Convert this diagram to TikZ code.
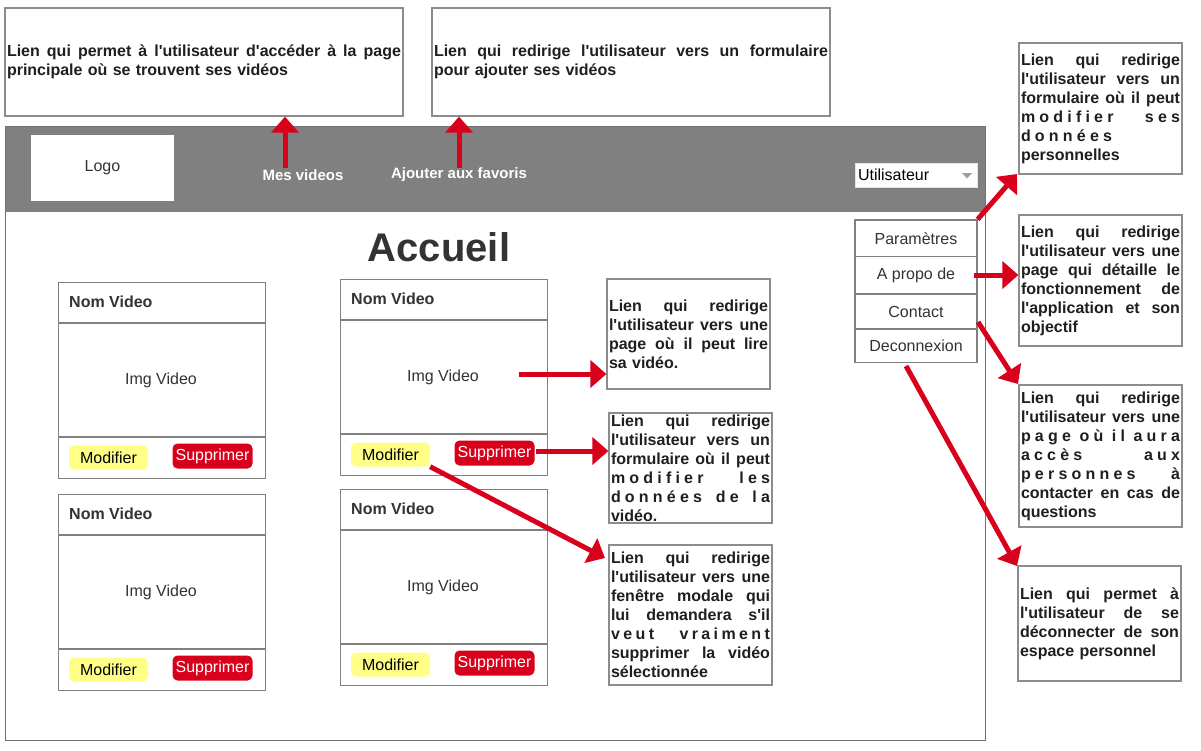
\documentclass[tikz,border=0pt]{standalone}
\usepackage{fontspec}
\setmainfont{Liberation Sans}
\usetikzlibrary{arrows.meta}
\definecolor{redA}{HTML}{D9001B}
\definecolor{bord}{HTML}{808080}
\definecolor{fbord}{HTML}{707070}
\definecolor{abord}{HTML}{8C8C8C}
\definecolor{txt}{HTML}{333333}
\definecolor{atxt}{HTML}{1F1F1F}
\definecolor{ylw}{HTML}{FFFF88}
\definecolor{hdr}{HTML}{808080}
\newcommand\fsz[1]{\fontsize{#1pt}{#1pt}\selectfont}
\newcommand\JL[1]{\makebox[\hsize][s]{\spaceskip=\fontdimen2\font plus 1fil\relax #1}}
\newcommand\LS[2][4.2pt]{{\spaceskip=#1\relax #2}}
\newcommand\apo{\textquotesingle}
\begin{document}
\begin{tikzpicture}[x=1pt,y=-1pt,
  annot/.style={draw=abord, line width=1.2pt, fill=white, text=atxt, font=\bfseries\fontsize{16pt}{19pt}\selectfont, align=left, inner xsep=2pt, inner ysep=0pt},
  card/.style={draw=bord, line width=1.3pt, fill=white, minimum width=207pt, minimum height=196pt, inner sep=0pt},
  sepline/.style={draw=bord, line width=1.2pt},
  btnY/.style={fill=ylw, rounded corners=5pt, minimum width=79pt, minimum height=24pt, inner sep=0pt, font=\fsz{16}, text=black},
  btnR/.style={fill=redA, rounded corners=5pt, minimum width=80pt, minimum height=25pt, inner sep=0pt, font=\fsz{16}, text=white},
  menuitem/.style={draw=bord, line width=1.2pt, fill=white, minimum width=122pt, inner sep=0pt, font=\fsz{16}, text=txt},
  redarrow/.style={draw=redA, line width=5pt, -{Triangle[width=27pt,length=16pt]}},
  lbl/.style={inner sep=0pt, text=txt}
]
\useasboundingbox (0,0) rectangle (1201,750);
\fill[white] (0,0) rectangle (1201,750);

% top annotations
\node[annot, text width=394pt, minimum width=398pt, minimum height=108pt] (tl) at (204,62)
  {\JL{Lien qui permet à l\apo utilisateur d\apo accéder à la page}\\principale où se trouvent ses vidéos};
\node[annot, text width=394pt, minimum width=398pt, minimum height=108pt] (tm) at (631,62)
  {\JL{Lien qui redirige l\apo utilisateur vers un formulaire}\\pour ajouter ses vidéos};

% frame and header
\node[fill=hdr, minimum width=980pt, minimum height=86pt, anchor=north west, inner sep=0pt] (hdr) at (5,126) {};
\node[draw=fbord, line width=1.3pt, minimum width=980pt, minimum height=614pt, anchor=north west, inner sep=0pt] (frame) at (5,126) {};
\node[fill=white, minimum width=143pt, minimum height=66pt, inner sep=0pt, font=\fsz{16}, text=txt] (logo) at (102.5,168) {Logo};
\node[inner sep=0pt, text=white, font=\bfseries\fsz{15}] (mes) at (303,175) {Mes videos};
\node[inner sep=0pt, text=white, font=\bfseries\fsz{15}] (fav) at (459,175) {Ajouter aux favoris};

% user dropdown
\node[fill=white, draw=gray!20, minimum height=24pt, text width=116pt, inner xsep=3pt, inner ysep=0pt, align=left, font=\fsz{16}, text=black] (user) at (916,175) {Utilisateur};
\fill[gray!75] (962,173) -- (972,173) -- (967,178.5) -- cycle;

% menu
\node[menuitem, minimum height=36.7pt] (m1) at (916,238.35) {Paramètres};
\node[menuitem, minimum height=37.3pt] (m2) at (916,275.35) {A propo de};
\node[menuitem, minimum height=35pt] (m3) at (916,311.5) {Contact};
\node[menuitem, minimum height=33.7pt] (m4) at (916,345.85) {Deconnexion};

% title
\node[inner sep=0pt, text=txt, font=\bfseries\fsz{40}] (acc) at (439,247) {Accueil};

% cards
\foreach \cx/\cy/\n in {58/282/c1,58/494/c2,340/279/c3,340/489/c4}{
  \node[card, anchor=north west] (\n) at (\cx,\cy) {};
  \draw[sepline] ([yshift=-41pt]\n.north west) -- ([yshift=-41pt]\n.north east);
  \draw[sepline] ([yshift=-155pt]\n.north west) -- ([yshift=-155pt]\n.north east);
  \node[lbl, anchor=west, font=\bfseries\fsz{16}] (\n-name) at (\cx+11,\cy+20) {Nom Video};
  \node[lbl, font=\fsz{16}] (\n-img) at (\cx+103,\cy+98) {Img Video};
  \node[btnY] (\n-mod) at (\cx+50.5,\cy+175.5) {Modifier};
  \node[btnR] (\n-sup) at (\cx+154.5,\cy+174) {Supprimer};
}

% card annotations
\node[annot, text width=159pt, minimum width=163pt, minimum height=110pt] (A) at (688.5,334)
  {\JL{Lien qui redirige}\\\JL{l\apo utilisateur vers une}\\\JL{page où il peut lire}\\sa vidéo.};
\node[annot, text width=159pt, minimum width=163pt, minimum height=110pt] (B) at (690.5,468)
  {\JL{Lien qui redirige}\\\JL{l\apo utilisateur vers un}\\\JL{formulaire où il peut}\\\JL{\LS{m o d i f i e r}\hfill\LS{l e s}}\\\JL{\LS{d o n n é e s}\hfill\LS{d e}\hfill\LS{l a}}\\vidéo.};
\node[annot, text width=159pt, minimum width=163pt, minimum height=140pt] (C) at (690.5,615)
  {\JL{Lien qui redirige}\\\JL{l\apo utilisateur vers une}\\\JL{fenêtre modale qui}\\\JL{lui demandera s\apo il}\\\JL{\LS[3.4pt]{v e u t}\hfill\LS[3.4pt]{v r a i m e n t}}\\\JL{supprimer la vidéo}\\sélectionnée};

% right annotations
\node[annot, text width=159pt, minimum width=163pt, minimum height=131pt] (r1) at (1100.5,108.5)
  {\JL{Lien qui redirige}\\\JL{l\apo utilisateur vers un}\\\JL{formulaire où il peut}\\\JL{\LS{m o d i f i e r}\hfill\LS{s e s}}\\\LS{d o n n é e s}\\personnelles};
\node[annot, text width=159pt, minimum width=163pt, minimum height=131pt] (r2) at (1100.5,280.5)
  {\JL{Lien qui redirige}\\\JL{l\apo utilisateur vers une}\\\JL{page qui détaille le}\\\JL{fonctionnement de}\\\JL{l\apo application et son}\\objectif};
\node[annot, text width=159pt, minimum width=163pt, minimum height=142pt] (r3) at (1100.5,456)
  {\JL{Lien qui redirige}\\\JL{l\apo utilisateur vers une}\\\JL{\LS{p a g e}\hfill\LS{o ù}\hfill\LS{i l}\hfill\LS{a u r a}}\\\JL{\LS{a c c è s}\hfill\LS{a u x}}\\\JL{\LS{p e r s o n n e s}\hfill\LS{à}}\\\JL{contacter en cas de}\\questions};
\node[annot, text width=159pt, minimum width=163pt, minimum height=115pt] (r4) at (1099.5,623.5)
  {\JL{Lien qui permet à}\\\JL{l\apo utilisateur de se}\\\JL{déconnecter de son}\\espace personnel};

% arrow start points
\coordinate (a1) at (285,168);
\coordinate (a2) at (459,168);
\coordinate (sA) at (519,374);
\coordinate (sB) at (536,451);
\coordinate (eC) at (605,558);
\coordinate (s2) at (974,275);
\coordinate (e1) at (1017,174);
\coordinate (s3) at (978,322);
\coordinate (e3) at (1018,384);
\coordinate (s4) at (906,366);
\coordinate (e4) at (1017,566);

% arrows
\draw[redarrow] (a1) -- (a1 |- tl.south);
\draw[redarrow] (a2) -- (a2 |- tm.south);
\draw[redarrow] (sA) -- (sA -| A.west);
\draw[redarrow] (sB) -- (sB -| B.west);
\draw[redarrow] (c3-mod.south east) -- (eC);
\draw[redarrow] (m1.north east) -- (e1);
\draw[redarrow] (s2) -- (s2 -| r2.west);
\draw[redarrow] (s3) -- (e3);
\draw[redarrow] (s4) -- (e4);
\end{tikzpicture}
\end{document}
